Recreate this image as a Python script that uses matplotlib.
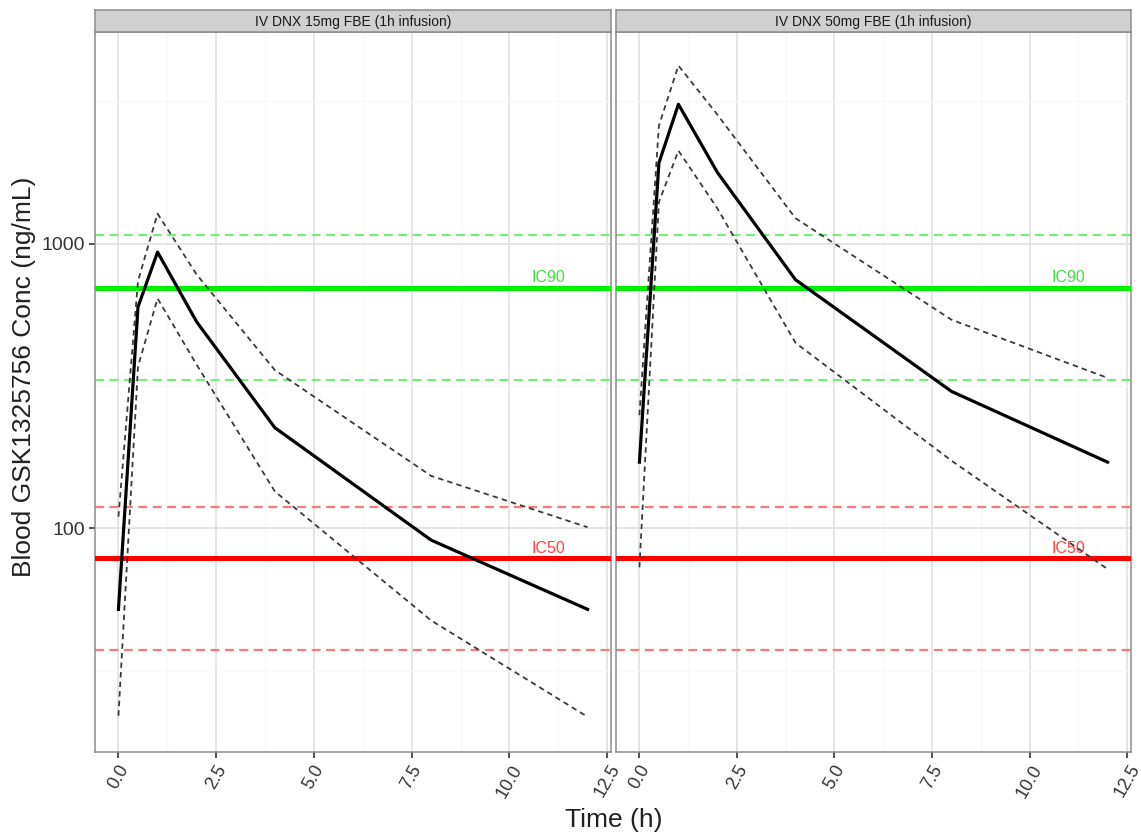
import numpy as np
import matplotlib
matplotlib.use("Agg")
import matplotlib.pyplot as plt

plt.rcParams['font.family'] = ['Liberation Sans', 'DejaVu Sans']

# ---- data ----
time_h = [0, 0.5, 1, 2, 4, 8, 12]
panel_titles = ["IV DNX 15mg FBE (1h infusion)", "IV DNX 50mg FBE (1h infusion)"]

median_15 = [52, 600, 935, 532, 226, 91, 52]
upper_15 = [110, 740, 1276, 780, 360, 153, 101]
lower_15 = [22, 370, 643, 376, 135, 47.5, 21.8]

median_50 = [171, 1923, 3091, 1780, 748, 303, 171]
upper_50 = [250, 2600, 4226, 2840, 1230, 541, 338]
lower_50 = [73, 1400, 2124, 1330, 449, 173, 72]

ic90, ic90_lo, ic90_hi = 702, 333, 1075
ic50, ic50_lo, ic50_hi = 78.5, 37.3, 118.5

x_ticks = [0, 2.5, 5, 7.5, 10, 12.5]
x_tick_labels = ["0.0", "2.5", "5.0", "7.5", "10.0", "12.5"]
y_ticks = [100, 1000]
y_tick_labels = ["100", "1000"]

panels = [(median_15, upper_15, lower_15), (median_50, upper_50, lower_50)]

W, H = 1141, 833
fig = plt.figure(figsize=(W / 100, H / 100), dpi=100)

# panel boxes in pixels: left, right
boxes = [(95, 611), (616, 1131)]
top_px, bot_px, strip_top = 32, 752, 10

for i, (l, r) in enumerate(boxes):
    ax = fig.add_axes([l / W, 1 - bot_px / H, (r - l) / W, (bot_px - top_px) / H])
    med, up, lo = panels[i]

    ax.set_yscale('log')
    ax.set_xlim(-0.6, 12.6)
    ax.set_ylim(16.4, 5546)

    # grid
    ax.set_xticks(x_ticks)
    ax.set_xticks([1.25, 3.75, 6.25, 8.75, 11.25], minor=True)
    ax.set_yticks(y_ticks)
    ax.set_yticks([31.6, 316, 3162], minor=True)
    ax.yaxis.set_minor_formatter(plt.NullFormatter())
    ax.grid(True, which='major', color='#e3e3e3', lw=1.3, zorder=0)
    ax.grid(True, which='minor', color='#f8f8f8', lw=0.8, zorder=0)
    ax.tick_params(which='minor', length=0)

    # IC lines
    ax.axhline(ic90_hi, color='#77ee77', lw=1.6, dashes=(4, 2.5), zorder=2)
    ax.axhline(ic90_lo, color='#77ee77', lw=1.6, dashes=(4, 2.5), zorder=2)
    ax.axhline(ic50_hi, color='#ff7777', lw=1.6, dashes=(4, 2.5), zorder=2)
    ax.axhline(ic50_lo, color='#ff7777', lw=1.6, dashes=(4, 2.5), zorder=2)
    ax.axhline(ic90, color='#00ee00', lw=3.6, zorder=3)
    ax.axhline(ic50, color='#ff0000', lw=3.6, zorder=3)
    ax.text(11, ic90 * 1.02, "IC90", color='#44dd44', fontsize=11.5, ha='center', va='bottom', zorder=3)
    ax.text(11, ic50 * 1.02, "IC50", color='#ff4444', fontsize=11.5, ha='center', va='bottom', zorder=3)

    # concentration profiles
    ax.plot(time_h, up, color='#3a3a3a', lw=1.3, dashes=(3, 2.3), zorder=4)
    ax.plot(time_h, lo, color='#3a3a3a', lw=1.3, dashes=(3, 2.3), zorder=4)
    ax.plot(time_h, med, color='black', lw=2.3, zorder=5)

    # ticks
    ax.set_xticklabels(x_tick_labels, rotation=60, ha='center', va='top',
                       fontsize=13, color='#333333')
    if i == 0:
        ax.set_yticklabels(y_tick_labels, fontsize=14, color='#333333')
    else:
        ax.tick_params(axis='y', which='both', left=False, labelleft=False)
    ax.tick_params(axis='both', which='major', length=4, width=1.2, color='#333333', pad=3)

    for s in ax.spines.values():
        s.set_color('#8c8c8c')
        s.set_linewidth(1.1)

    # strip
    sax = fig.add_axes([l / W, 1 - top_px / H, (r - l) / W, (top_px - strip_top) / H])
    sax.set_facecolor('#d0d0d0')
    sax.set_xticks([])
    sax.set_yticks([])
    for s in sax.spines.values():
        s.set_color('#8c8c8c')
        s.set_linewidth(1.1)
    sax.text(0.5, 0.45, panel_titles[i], ha='center', va='center', fontsize=10,
             color='#1a1a1a', transform=sax.transAxes)

fig.text(24 / W, 1 - 377 / H, "Blood GSK1325756 Conc (ng/mL)", rotation=90,
         ha='center', va='center', fontsize=19, color='#222222')
fig.text(614 / W, 1 - 820 / H, "Time (h)", ha='center', va='center', fontsize=19,
         color='#222222')

fig.savefig("out.png", dpi=100, facecolor='white')
